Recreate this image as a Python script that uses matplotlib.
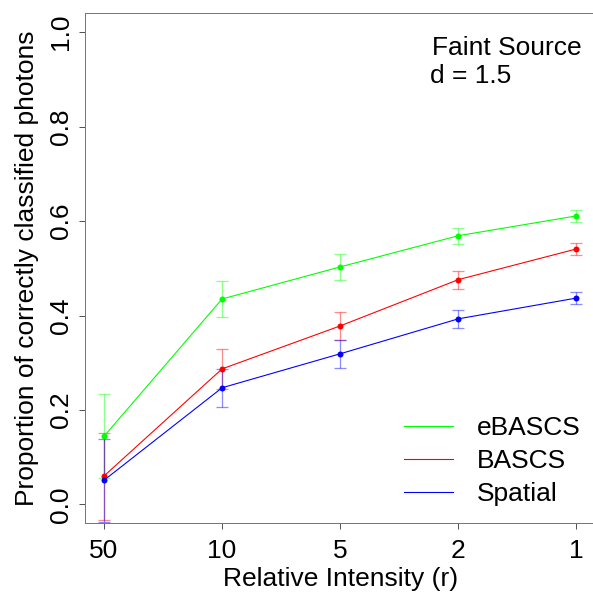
import matplotlib
matplotlib.use("Agg")
import matplotlib.pyplot as plt
import numpy as np

plt.rcParams['font.family'] = ['Liberation Sans', 'DejaVu Sans']

categories = ["50", "10", "5", "2", "1"]
series_names = ["eBASCS", "BASCS", "Spatial"]
series_colors = ["#00FF00", "#FF0000", "#0000FF"]

ebascs = [0.144, 0.435, 0.503, 0.569, 0.611]
ebascs_err = [0.089, 0.038, 0.028, 0.017, 0.012]
bascs = [0.060, 0.287, 0.378, 0.476, 0.541]
bascs_err = [0.092, 0.043, 0.030, 0.019, 0.013]
spatial = [0.051, 0.247, 0.319, 0.393, 0.437]
spatial_err = [0.088, 0.040, 0.030, 0.019, 0.013]

yticks = [0.0, 0.2, 0.4, 0.6, 0.8, 1.0]
ytick_labels = ["0.0", "0.2", "0.4", "0.6", "0.8", "1.0"]

W, H = 593, 592
dpi = 100
fig = plt.figure(figsize=(W / dpi, H / dpi), dpi=dpi)
ax = fig.add_axes([85 / W, 1 - 523.3 / H, (595.4 - 85) / W, (523.3 - 13.3) / H])

x = np.arange(1, len(categories) + 1)
fs = 19
px = 72.0 / dpi  # points per pixel

vals = [ebascs, bascs, spatial]
errs = [ebascs_err, bascs_err, spatial_err]

for v, e, c in zip(vals, errs, series_colors):
    ax.errorbar(x, v, yerr=e, fmt='none', ecolor=c, alpha=0.45,
                elinewidth=1.3 * px, capsize=6 * px, capthick=1.3 * px, zorder=2)

handles = []
for v, c, n in zip(vals, series_colors, series_names):
    h, = ax.plot(x, v, color=c, lw=1.1 * px, zorder=3, label=n)
    ax.plot(x, v, 'o', color=c, ms=6 * px, mec=c, mew=0, zorder=4)
    handles.append(h)

ax.set_xlim(0.84, 5.16)
ax.set_ylim(-0.04, 1.04)
ax.set_xticks(x)
ax.set_xticklabels(categories, fontsize=fs)
ax.set_yticks(yticks)
ax.set_yticklabels(ytick_labels, fontsize=fs, rotation=90, va='center')

for s in ax.spines.values():
    s.set_color('#777777')
    s.set_linewidth(1.0 * px)
ax.tick_params(axis='both', direction='out', length=6 * px, width=1.0 * px,
               color='#555555', labelcolor='black')
ax.tick_params(axis='x', pad=10 * px)
ax.tick_params(axis='y', pad=6 * px)

ax.set_xlabel("Relative Intensity (r)", fontsize=fs, labelpad=3)
ax.set_ylabel("Proportion of correctly classified photons", fontsize=fs, labelpad=7)

fig.text(431.7 / W, 1 - 55 / H, "Faint Source", fontsize=fs, va='baseline', ha='left')
fig.text(430 / W, 1 - 83.3 / H, "d = 1.5", fontsize=fs, va='baseline', ha='left')

leg = ax.legend(handles=handles, labels=series_names, frameon=False, fontsize=fs,
                loc='upper left', bbox_to_anchor=(404 / W, 1 - 416 / H),
                bbox_transform=fig.transFigure, handlelength=1.86, handletextpad=0.91,
                labelspacing=0.35, borderpad=0, borderaxespad=0)

fig.savefig("out.png", dpi=dpi)
